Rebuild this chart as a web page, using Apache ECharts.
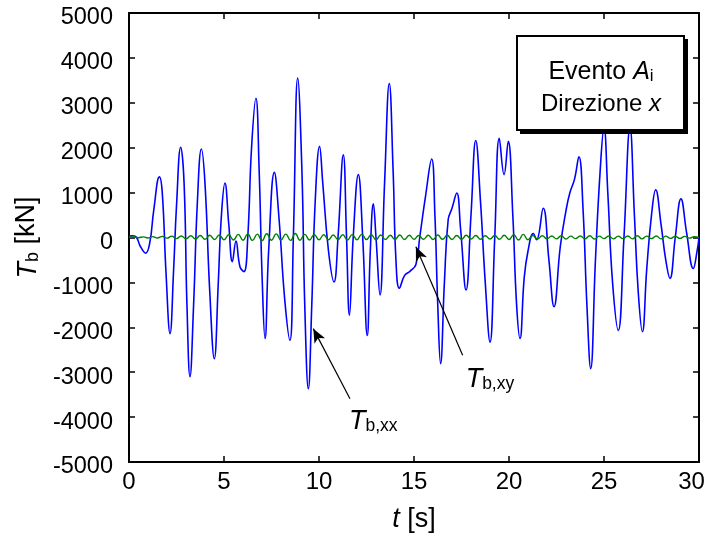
<!DOCTYPE html>
<html><head><meta charset="utf-8">
<script src="https://cdn.jsdelivr.net/npm/echarts@6/dist/echarts.min.js"></script>
<style>html,body{margin:0;padding:0;background:#fff}#c{width:706px;height:546px}</style>
</head><body><div id="c"></div>
<script>
// Blue series T_b,xx : time [s] and value [kN]
const tBlue = [0,0.2,0.4,0.6,0.88,1.1,1.3,1.6,1.75,1.95,2.16,2.35,2.5,2.72,2.9,3.05,3.21,3.4,3.6,3.81,4.0,4.25,4.49,4.7,4.85,5.05,5.25,5.44,5.63,5.84,6.05,6.25,6.45,6.68,6.85,7.0,7.16,7.35,7.65,7.9,8.2,8.47,8.65,8.88,9.1,9.25,9.44,9.62,9.8,10.03,10.2,10.5,10.79,11.0,11.28,11.45,11.6,11.8,12.07,12.3,12.54,12.7,12.86,13.0,13.21,13.45,13.7,13.9,14.05,14.23,14.5,14.8,15.1,15.3,15.6,15.93,16.1,16.25,16.4,16.6,16.8,17.0,17.25,17.45,17.74,18.0,18.25,18.5,18.75,19.0,19.25,19.49,19.74,19.96,20.2,20.4,20.58,20.8,21.0,21.28,21.45,21.8,22.1,22.37,22.7,23.0,23.2,23.45,23.68,23.9,24.1,24.3,24.55,24.8,25.0,25.2,25.45,25.75,26.05,26.37,26.6,26.8,27.02,27.25,27.5,27.72,28.0,28.25,28.47,28.75,29.05,29.35,29.7,29.9,30.0];
const vBlue = [30,40,0,-200,-350,-100,600,1350,1000,-800,-2140,-700,700,2010,1200,-1500,-3100,-1500,800,1970,1200,-1200,-2700,-1000,400,1210,300,-540,-80,-650,-760,0,2000,3100,1500,-800,-2250,-300,1450,400,-1400,-2290,0,3550,1500,-1500,-3370,-1500,800,2030,1200,-300,-990,0,1840,0,-1730,0,1400,0,-2180,-300,750,0,-1280,1200,3430,1500,-500,-1130,-850,-750,-600,0,900,1750,500,-1500,-2810,-1000,400,650,990,200,-1170,500,2160,800,-1000,-2330,0,2210,1400,2140,500,-1500,-2250,-900,-300,90,-50,650,-500,-1540,-200,600,990,1300,1800,600,-1500,-2920,-500,1500,2450,1000,-1000,-2070,0,2450,500,-1200,-2100,-700,500,1060,300,-500,-910,0,860,100,-690,-300,0];
// Green series T_b,xy
const tGreen = [0,0.25,0.5,0.75,1,1.25,1.5,1.75,2,2.25,2.5,2.75,3,3.25,3.5,3.75,4,4.25,4.5,4.75,5,5.25,5.5,5.75,6,6.25,6.5,6.75,7,7.25,7.5,7.75,8,8.25,8.5,8.75,9,9.25,9.5,9.75,10,10.25,10.5,10.75,11,11.25,11.5,11.75,12,12.25,12.5,12.75,13,13.25,13.5,13.75,14,14.25,14.5,14.75,15,15.25,15.5,15.75,16,16.25,16.5,16.75,17,17.25,17.5,17.75,18,18.25,18.5,18.75,19,19.25,19.5,19.75,20,20.25,20.5,20.75,21,21.25,21.5,21.75,22,22.25,22.5,22.75,23,23.25,23.5,23.75,24,24.25,24.5,24.75,25,25.25,25.5,25.75,26,26.25,26.5,26.75,27,27.25,27.5,27.75,28,28.25,28.5,28.75,29,29.25,29.5,29.75,30];
const vGreen = [5,15,-5,15,-10,20,-10,25,-15,
30,-25,35,-30,40,-35,45,-40,50,-45,55,-50,
60,-55,70,-60,80,-65,75,-70,85,-60,80,-55,75,-65,90,-60,70,-55,65,-50,
60,-50,55,-45,60,-55,65,-50,70,-45,60,-50,55,-45,50,-40,55,-45,50,-40,
45,-40,50,-45,55,-40,50,-45,45,-40,50,-35,45,-40,40,-35,45,-40,50,-45,
60,-55,70,-50,45,-35,40,-30,35,-30,40,-35,30,-25,35,-30,40,-35,30,-25,
35,-30,30,-25,35,-30,40,-30,30,-25,35,-30,30,-20,25,-20,25,-15,20,0];
// Axis ranges / ticks
const xMin = 0, xMax = 30, xStep = 5;
const yMin = -5000, yMax = 5000, yStep = 1000;
// Annotation arrows: [tail, head] in data coords
const arrowXX = [[11.63, -3590], [9.7, -2030]];
const arrowXY = [[17.56, -2620], [15.1, -205]];

const FONT = 'Liberation Sans, Arial, sans-serif';
const chart = echarts.init(document.getElementById('c'), null, {renderer: 'canvas'});
const blueData = tBlue.map((t, i) => [t, vBlue[i]]);
const greenData = tGreen.map((t, i) => [t, vGreen[i]]);

const axisCommon = {
  axisLine: {show: true, onZero: false, lineStyle: {color: '#000', width: 2}},
  axisTick: {show: true, inside: true, length: 6, lineStyle: {color: '#000', width: 1.5}},
  splitLine: {show: false}
};

const option = {
  animation: false,
  backgroundColor: '#fff',
  grid: {left: 129, right: 7, top: 13, bottom: 84, containLabel: false, outerBoundsMode: 'none'},
  xAxis: [
    Object.assign({type: 'value', min: xMin, max: xMax, interval: xStep, position: 'bottom',
      name: '{i|t} [s]', nameLocation: 'middle', nameGap: 44,
      nameTextStyle: {fontFamily: FONT, fontSize: 27, color: '#000', rich: {i: {fontStyle: 'italic', fontSize: 27, fontFamily: FONT}}},
      axisLabel: {fontFamily: FONT, fontSize: 24, color: '#000', margin: 8,
        formatter: v => v === xMax ? '{r|' + v + '}' : String(v),
        rich: {r: {fontFamily: FONT, fontSize: 24, color: '#000', padding: [0, 15, 0, 0]}}}}, axisCommon),
    Object.assign({type: 'value', min: xMin, max: xMax, interval: xStep, position: 'top',
      axisLabel: {show: false}}, axisCommon)
  ],
  yAxis: [
    Object.assign({type: 'value', min: yMin, max: yMax, interval: yStep, position: 'left',
      name: '{i|T}{s|b} [kN]', nameLocation: 'middle', nameGap: 84,
      nameTextStyle: {fontFamily: FONT, fontSize: 27, color: '#000',
        rich: {i: {fontStyle: 'italic', fontSize: 27, fontFamily: FONT, lineHeight: 30, verticalAlign: 'bottom'},
               s: {fontSize: 18, fontFamily: FONT, lineHeight: 22, verticalAlign: 'bottom'}}},
      axisLabel: {fontFamily: FONT, fontSize: 23.5, color: '#000', margin: 16,
        formatter: v => '{a|' + v + '}',
        rich: {a: {fontFamily: FONT, fontSize: 23.5, color: '#000', padding: [10, 0, 0, 0]}}}}, axisCommon),
    Object.assign({type: 'value', min: yMin, max: yMax, interval: yStep, position: 'right',
      axisLabel: {show: false}}, axisCommon)
  ],
  series: [
    {type: 'line', name: 'Tb,xx', data: blueData, showSymbol: false, smooth: 0.45,
     lineStyle: {color: '#0000ff', width: 1.6}, z: 2,
     markLine: {silent: true, symbol: ['none', 'arrow'], symbolSize: [9, 14],
       lineStyle: {color: '#000', width: 1.2, type: 'solid'}, label: {show: false},
       data: [[{coord: arrowXX[0]}, {coord: arrowXX[1]}], [{coord: arrowXY[0]}, {coord: arrowXY[1]}]]}},
    {type: 'line', name: 'Tb,xy', data: greenData, showSymbol: false, smooth: 0.5,
     lineStyle: {color: '#008000', width: 1.4}, z: 3}
  ]
};
chart.setOption(option);

const pXX = chart.convertToPixel({gridIndex: 0}, arrowXX[0]);
const pXY = chart.convertToPixel({gridIndex: 0}, arrowXY[0]);
const labelRich = {
  i: {fontStyle: 'italic', fontSize: 27, fontFamily: FONT, fill: '#000', lineHeight: 30, verticalAlign: 'bottom'},
  s: {fontSize: 17.5, fontFamily: FONT, fill: '#000', lineHeight: 22, verticalAlign: 'bottom'}
};
chart.setOption({
  graphic: [
    {type: 'text', x: pXX[0] - 1, y: pXX[1] + 6, z: 50,
     style: {text: '{i|T}{s|b,xx}', rich: labelRich}},
    {type: 'text', x: pXY[0] + 3, y: pXY[1] + 8, z: 50,
     style: {text: '{i|T}{s|b,xy}', rich: labelRich}},
    {type: 'rect', x: 520, y: 39, z: 98, shape: {width: 168, height: 95},
     style: {fill: '#000'}},
    {type: 'rect', x: 517, y: 36, z: 99, shape: {width: 167, height: 94},
     style: {fill: '#fff', stroke: '#000', lineWidth: 2}},
    {type: 'text', x: 601, y: 70, z: 100,
     style: {text: '{n|Evento }{i|A}{s|i}', align: 'center', verticalAlign: 'middle',
       rich: {n: {fontSize: 25, fontFamily: FONT, fill: '#000', lineHeight: 30, verticalAlign: 'bottom'},
              i: {fontSize: 25, fontStyle: 'italic', fontFamily: FONT, fill: '#000', lineHeight: 30, verticalAlign: 'bottom'},
              s: {fontSize: 17, fontFamily: FONT, fill: '#000', lineHeight: 24, verticalAlign: 'bottom'}}}},
    {type: 'text', x: 601, y: 104, z: 100,
     style: {text: '{n|Direzione }{i|x}', align: 'center', verticalAlign: 'middle',
       rich: {n: {fontSize: 24, fontFamily: FONT, fill: '#000'},
              i: {fontSize: 24, fontStyle: 'italic', fontFamily: FONT, fill: '#000'}}}}
  ]
});
</script></body></html>
